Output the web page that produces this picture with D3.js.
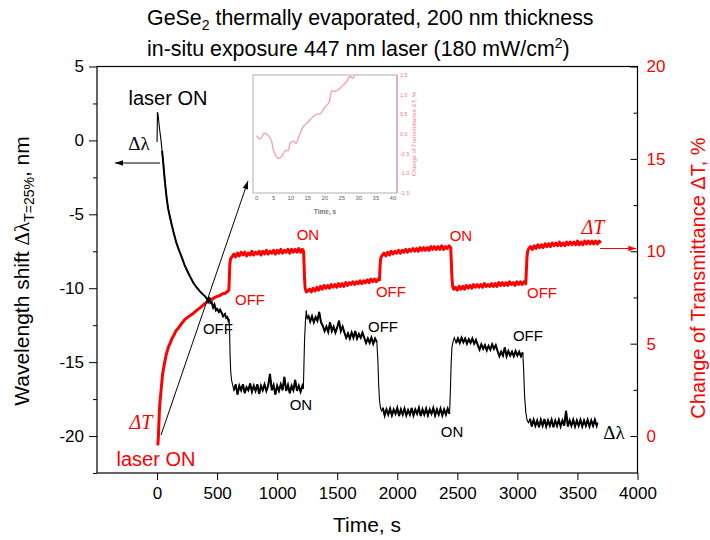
<!DOCTYPE html>
<html>
<head>
<meta charset="utf-8">
<script src="https://cdn.jsdelivr.net/npm/d3@7"></script>
<style>
  body { margin: 0; background: #fff; }
  text { font-family: "Liberation Sans", Arial, sans-serif; }
  .serif { font-family: "Liberation Serif", "Times New Roman", serif; }
</style>
</head>
<body>
<div id="chart"></div>
<script>
// ---- data: [time s, value] ----
// wavelength shift, nm (left axis)
const lamDecay = [[0,-0.1],[3,1.9],[8,1.8],[15,1.2],[22,0.7],[33,0.0],[42,-0.7],[52,-1.55],[62,-2.5],[72,-3.3],[80,-3.9],[92,-4.6],[105,-5.1],[122,-5.7],[140,-6.3],[160,-6.9],[177,-7.3],[191,-7.6],[210,-8.0],[230,-8.45],[250,-8.8],[274,-9.2],[303,-9.65],[330,-9.95],[355,-10.2],[380,-10.4],[400,-10.55],[414,-10.7],[425,-10.9],[435,-10.6],[445,-11.0],[455,-10.95],[467,-11.3],[478,-11.1],[490,-11.5],[500,-11.4],[515,-11.6],[525,-11.45],[540,-11.7],[550,-11.9],[565,-11.75],[575,-12.0],[585,-11.95],[595,-12.2],[600,-12.1]];
const lamOn1 = [[604,-13.0],[608,-14.5],[613,-15.6],[620,-16.2],[628,-16.5],[640,-16.9],[655,-16.5],[670,-17.2],[685,-16.6],[700,-16.9],[715,-16.5],[730,-17.1],[745,-16.7],[760,-16.9],[775,-16.45],[790,-17.0],[805,-16.6],[820,-16.95],[835,-16.5],[850,-17.15],[865,-16.6],[880,-16.9],[895,-16.5],[910,-16.95],[925,-16.6],[940,-15.8],[955,-16.9],[970,-16.55],[985,-17.2],[1000,-16.6],[1015,-16.95],[1030,-16.5],[1045,-16.9],[1060,-16.0],[1075,-16.95],[1090,-16.55],[1105,-17.1],[1120,-16.6],[1135,-16.9],[1150,-16.2],[1165,-16.95],[1180,-16.6],[1195,-17.0],[1210,-16.6],[1218,-16.8]];
const lamOff1 = [[1222,-15.5],[1228,-13.5],[1235,-12.3],[1242,-11.5],[1250,-12.1],[1260,-11.85],[1275,-12.25],[1290,-11.9],[1305,-12.3],[1320,-11.95],[1335,-12.2],[1350,-11.6],[1365,-12.3],[1380,-12.55],[1395,-12.9],[1410,-12.6],[1425,-12.95],[1440,-12.3],[1455,-12.9],[1470,-12.6],[1485,-13.0],[1500,-12.65],[1515,-12.2],[1530,-12.9],[1545,-12.6],[1560,-13.0],[1575,-13.35],[1590,-13.05],[1605,-13.4],[1620,-13.0],[1635,-13.35],[1650,-12.9],[1665,-13.4],[1680,-13.1],[1695,-13.35],[1710,-13.0],[1725,-13.35],[1740,-13.7],[1755,-13.4],[1770,-13.7],[1785,-13.35],[1800,-13.75],[1815,-13.4],[1830,-13.65]];
const lamOn2 = [[1838,-14.8],[1845,-16.5],[1852,-17.6],[1860,-18.1],[1870,-18.3],[1880,-18.1],[1895,-18.6],[1910,-18.2],[1925,-18.55],[1940,-18.15],[1955,-18.6],[1970,-18.2],[1985,-18.5],[2000,-18.1],[2015,-18.65],[2030,-18.2],[2045,-18.55],[2060,-18.15],[2075,-18.6],[2090,-18.25],[2105,-18.55],[2120,-18.1],[2135,-18.6],[2150,-18.2],[2165,-18.5],[2180,-18.1],[2195,-18.65],[2210,-18.2],[2225,-18.55],[2240,-18.15],[2255,-18.6],[2270,-18.2],[2285,-18.5],[2300,-18.1],[2315,-18.6],[2330,-18.2],[2345,-18.55],[2360,-18.15],[2375,-18.6],[2390,-18.2],[2405,-18.55],[2420,-18.15],[2435,-18.5]];
const lamOff2 = [[2442,-17.0],[2448,-15.2],[2455,-14.0],[2465,-13.6],[2475,-13.35],[2490,-13.7],[2505,-13.4],[2520,-13.7],[2535,-13.35],[2550,-13.65],[2565,-13.4],[2580,-13.75],[2595,-13.45],[2610,-13.7],[2625,-13.4],[2640,-13.75],[2655,-13.5],[2670,-13.85],[2685,-14.15],[2700,-13.8],[2715,-14.1],[2730,-13.85],[2745,-14.2],[2760,-13.9],[2775,-14.15],[2790,-13.8],[2805,-14.1],[2820,-13.85],[2835,-14.25],[2850,-14.6],[2865,-14.3],[2880,-14.55],[2895,-14.0],[2910,-14.6],[2925,-14.25],[2940,-14.55],[2955,-14.3],[2970,-14.6],[2985,-14.25],[3000,-14.55],[3015,-14.3],[3030,-14.6],[3045,-14.35]];
const lamOn3 = [[3052,-15.5],[3060,-17.3],[3070,-18.4],[3080,-18.9],[3092,-19.1],[3105,-18.85],[3120,-19.35],[3135,-18.9],[3150,-19.3],[3165,-18.95],[3180,-19.4],[3195,-18.9],[3210,-19.3],[3225,-18.85],[3240,-19.35],[3255,-18.95],[3270,-19.3],[3285,-18.9],[3300,-19.4],[3315,-18.95],[3330,-19.3],[3345,-18.9],[3360,-19.35],[3375,-18.95],[3390,-19.3],[3405,-18.3],[3420,-19.35],[3435,-18.95],[3450,-19.3],[3465,-18.9],[3480,-19.35],[3495,-18.95],[3510,-19.3],[3525,-18.9],[3540,-19.35],[3555,-18.95],[3570,-19.3],[3585,-18.9],[3600,-19.35],[3615,-18.95],[3630,-19.3],[3645,-18.9],[3660,-19.3],[3667,-19.1]];

// change of transmittance, % (right axis)
const trRise = [[6,-0.5],[8,-0.35],[12,0.1],[16,0.8],[20,1.4],[25,1.9],[31,2.3],[38,2.8],[45,3.3],[55,3.7],[67,4.1],[76,4.4],[85,4.6],[96,4.85],[108,5.0],[122,5.25],[140,5.45],[158,5.7],[178,5.85],[200,6.05],[230,6.3],[260,6.45],[303,6.65],[330,6.8],[360,6.95],[385,7.1],[414,7.25],[445,7.35],[480,7.5],[520,7.6],[545,7.7],[567,7.73],[590,7.85],[598,7.9]];
const trOff1 = [[602,8.6],[606,9.3],[612,9.6],[625,9.7],[640,9.85],[655,9.7],[670,9.9],[685,9.75],[700,9.95],[715,9.8],[730,9.95],[745,9.75],[760,9.9],[775,9.8],[790,10.0],[805,9.8],[820,9.95],[835,9.85],[850,10.0],[865,9.8],[880,10.0],[895,9.85],[910,10.05],[925,9.85],[940,10.0],[955,9.9],[970,10.05],[985,9.85],[1000,10.05],[1015,9.9],[1030,10.1],[1045,9.9],[1060,10.05],[1075,9.95],[1090,10.1],[1105,9.9],[1120,10.1],[1135,9.95],[1150,10.1],[1165,9.95],[1180,10.15],[1195,9.95],[1210,10.1],[1220,10.0]];
const trOn1 = [[1224,9.3],[1228,8.5],[1233,8.0],[1242,7.8],[1255,7.85],[1270,7.95],[1285,7.8],[1300,8.0],[1315,7.85],[1330,8.05],[1345,7.9],[1360,8.1],[1375,7.95],[1390,8.15],[1405,8.0],[1420,8.15],[1435,8.0],[1450,8.2],[1465,8.05],[1480,8.2],[1495,8.05],[1510,8.25],[1525,8.1],[1540,8.25],[1555,8.1],[1570,8.3],[1585,8.15],[1600,8.3],[1615,8.2],[1630,8.35],[1645,8.2],[1660,8.35],[1675,8.25],[1690,8.4],[1705,8.25],[1720,8.4],[1735,8.3],[1750,8.45],[1765,8.3],[1780,8.5],[1795,8.35],[1810,8.5],[1825,8.35],[1840,8.5],[1852,8.45]];
const trOff2 = [[1856,9.1],[1860,9.5],[1866,9.7],[1878,9.8],[1890,9.9],[1905,9.75],[1920,9.95],[1935,9.8],[1950,10.0],[1965,9.85],[1980,10.0],[1995,9.9],[2010,10.05],[2025,9.9],[2040,10.05],[2055,9.95],[2070,10.1],[2085,9.95],[2100,10.1],[2115,10.0],[2130,10.15],[2145,10.0],[2160,10.15],[2175,10.0],[2190,10.2],[2205,10.05],[2220,10.2],[2235,10.05],[2250,10.2],[2265,10.05],[2280,10.25],[2295,10.1],[2310,10.25],[2325,10.1],[2340,10.25],[2355,10.1],[2370,10.3],[2385,10.1],[2400,10.25],[2415,10.15],[2430,10.3],[2445,10.2]];
const trOn2 = [[2450,9.4],[2455,8.6],[2461,8.1],[2470,7.95],[2485,8.05],[2500,7.9],[2515,8.1],[2530,7.95],[2545,8.1],[2560,7.95],[2575,8.15],[2590,8.0],[2605,8.15],[2620,8.0],[2635,8.2],[2650,8.05],[2665,8.2],[2680,8.05],[2695,8.2],[2710,8.05],[2725,8.25],[2740,8.1],[2755,8.2],[2770,8.1],[2785,8.25],[2800,8.1],[2815,8.25],[2830,8.1],[2845,8.3],[2860,8.15],[2875,8.3],[2890,8.15],[2905,8.3],[2920,8.15],[2935,8.35],[2950,8.2],[2965,8.3],[2980,8.15],[2995,8.35],[3010,8.2],[3025,8.35],[3040,8.2],[3055,8.35],[3070,8.25]];
const trOff3 = [[3075,9.0],[3080,9.7],[3086,10.0],[3095,10.15],[3110,10.25],[3125,10.1],[3140,10.3],[3155,10.15],[3170,10.35],[3185,10.2],[3200,10.35],[3215,10.2],[3230,10.4],[3245,10.25],[3260,10.4],[3275,10.25],[3290,10.45],[3305,10.3],[3320,10.45],[3335,10.3],[3350,10.5],[3365,10.3],[3380,10.45],[3395,10.3],[3410,10.5],[3425,10.35],[3440,10.5],[3455,10.35],[3470,10.5],[3485,10.35],[3500,10.55],[3515,10.35],[3530,10.5],[3545,10.35],[3560,10.55],[3575,10.4],[3590,10.55],[3605,10.4],[3620,10.55],[3635,10.4],[3650,10.55],[3665,10.4],[3680,10.55],[3695,10.45]];

// inset: first seconds of exposure, [time s, dT %]
const insetData = [[0,-0.04],[1,-0.13],[2.15,0.02],[3.4,-0.04],[4.4,-0.2],[4.9,-0.41],[5.7,-0.56],[6.6,-0.62],[7.4,-0.56],[8.3,-0.43],[9.3,-0.41],[9.8,-0.22],[10.75,-0.18],[11.5,-0.24],[12.5,-0.03],[13.7,0.19],[14.7,0.27],[16.1,0.4],[17.6,0.5],[18.6,0.51],[20,0.68],[21.3,0.82],[22,1.1],[23,1.08],[24.4,1.16],[25.4,1.25],[26.4,1.33],[27.4,1.46],[28.3,1.42],[28.8,1.5]];

// ticks
const timeTicks = [0,500,1000,1500,2000,2500,3000,3500,4000];
const lamTicks = [5,0,-5,-10,-15,-20];
const lamMinor = [2.5,-2.5,-7.5,-12.5,-17.5,-22.5];
const trTicks = [0,5,10,15,20];
const trMinor = [2.5,7.5,12.5,17.5];
const insetTimeTicks = [0,5,10,15,20,25,30,35,40];
const insetTrTicks = [-1.5,-1.0,-0.5,0.0,0.5,1.0,1.5];

const lamSegments = [lamDecay, lamOn1, lamOff1, lamOn2, lamOff2, lamOn3];
const trSegments = [trRise, trOff1, trOn1, trOff2, trOn2, trOff3];
const dLambda = [].concat(...lamSegments);
const dTrans = [].concat(...trSegments);

const RED = "#ff0000";
const W = 710, H = 540;
const margin = {top: 66.5, right: 72.5, bottom: 67, left: 97};
const plotW = W - margin.left - margin.right;
const plotH = H - margin.top - margin.bottom;
const plain = d => String(d);

const svg = d3.select("#chart").append("svg")
  .attr("width", W).attr("height", H);

const defs = svg.append("defs");
function marker(id, color) {
  defs.append("marker").attr("id", id)
    .attr("viewBox", "0 0 10 10").attr("refX", 10).attr("refY", 5)
    .attr("markerWidth", 10).attr("markerHeight", 8).attr("markerUnits", "userSpaceOnUse")
    .attr("orient", "auto")
    .append("path").attr("d", "M0,1.5 L10,5 L0,8.5 Z").attr("fill", color);
}
marker("arrBlack", "#000");
marker("arrRed", RED);

const x = d3.scaleLinear().domain([-500, 4000]).range([margin.left, margin.left + plotW]);
const yL = d3.scaleLinear().domain([-22.5, 5]).range([margin.top + plotH, margin.top]);
const yR = d3.scaleLinear().domain([-2, 20]).range([margin.top + plotH, margin.top]);

// bottom axis
const gx = svg.append("g")
  .attr("transform", `translate(0,${margin.top + plotH})`)
  .call(d3.axisBottom(x).tickValues(timeTicks).tickFormat(plain).tickSize(7).tickSizeOuter(0).tickPadding(7));
gx.select(".domain").remove();
gx.selectAll("text").style("font-size", "17px").attr("fill", "#000");

// left axis
const gl = svg.append("g").attr("transform", `translate(${margin.left},0)`)
  .call(d3.axisLeft(yL).tickValues(lamTicks).tickFormat(plain).tickSize(8).tickSizeOuter(0).tickPadding(5));
gl.select(".domain").remove();
gl.selectAll("text").style("font-size", "17px").attr("fill", "#000");
const glm = svg.append("g").attr("transform", `translate(${margin.left},0)`)
  .call(d3.axisLeft(yL).tickValues(lamMinor).tickSize(4).tickFormat(""));
glm.select(".domain").remove();

// right axis (ticks pointing inward)
const gr = svg.append("g").attr("transform", `translate(${margin.left + plotW},0)`)
  .call(d3.axisRight(yR).tickValues(trTicks).tickFormat(plain).tickSize(-7).tickSizeOuter(0).tickPadding(9));
gr.select(".domain").remove();
gr.selectAll("text").style("font-size", "17px").attr("fill", RED);
const grm = svg.append("g").attr("transform", `translate(${margin.left + plotW},0)`)
  .call(d3.axisRight(yR).tickValues(trMinor).tickSize(-4).tickFormat(""));
grm.select(".domain").remove();

// frame
svg.append("rect")
  .attr("x", margin.left).attr("y", margin.top)
  .attr("width", plotW).attr("height", plotH)
  .attr("fill", "none").attr("stroke", "#000").attr("stroke-width", 1.2);

// curves
const lineR = d3.line().x(d => x(d[0])).y(d => yR(d[1]));
const lineL = d3.line().x(d => x(d[0])).y(d => yL(d[1]));
svg.append("path").datum(dTrans).attr("d", lineR)
  .attr("fill", "none").attr("stroke", RED).attr("stroke-width", 3).attr("stroke-linejoin", "round");
svg.append("path").datum(dLambda).attr("d", lineL)
  .attr("fill", "none").attr("stroke", "#000").attr("stroke-width", 1.1);
// noisy plateaus are thicker than the switching edges
svg.selectAll(".plateau").data(lamSegments.map((s, i) => i === 0 ? s.slice(6) : s.slice(5)))
  .enter().append("path").attr("d", lineL)
  .attr("fill", "none").attr("stroke", "#000").attr("stroke-width", 2);

// inset
const ix = d3.scaleLinear().domain([-1.1, 41.2]).range([253, 397]);
const iy = d3.scaleLinear().domain([-1.5, 1.5]).range([193, 75]);
const inset = svg.append("g");
inset.append("rect").attr("x", 253).attr("y", 75).attr("width", 144).attr("height", 118)
  .attr("fill", "#fff").attr("stroke", "#b0b0b0").attr("stroke-width", 1);
inset.append("line").attr("x1", 397).attr("x2", 397).attr("y1", 75).attr("y2", 193)
  .attr("stroke", "#f08a92").attr("stroke-width", 1);
inset.append("defs").append("clipPath").attr("id", "insetClip")
  .append("rect").attr("x", 253).attr("y", 75).attr("width", 144).attr("height", 118);
inset.append("path").datum(insetData).attr("clip-path", "url(#insetClip)")
  .attr("d", d3.line().curve(d3.curveMonotoneX).x(d => ix(d[0])).y(d => iy(d[1])))
  .attr("fill", "none").attr("stroke", "#f4a3ab").attr("stroke-width", 1.4);
inset.selectAll(".ixt").data(insetTimeTicks).enter().append("text")
  .attr("x", d => ix(d)).attr("y", 200).attr("text-anchor", "middle")
  .style("font-size", "6px").attr("fill", "#666").text(d => d);
inset.selectAll(".iyt").data(insetTrTicks).enter().append("text")
  .attr("x", 400).attr("y", d => iy(d) + 2).style("font-size", "5.5px")
  .attr("fill", "#f07a85").text(d => d.toFixed(1));
inset.append("text").attr("x", 325).attr("y", 214).attr("text-anchor", "middle")
  .style("font-size", "6.5px").style("font-weight", "bold").attr("fill", "#777").text("Time, s");
inset.append("text").attr("transform", "translate(416,134) rotate(-90)")
  .attr("text-anchor", "middle").style("font-size", "6px").attr("fill", "#f07a85")
  .text("Change of Transmittance \u0394T, %");

// arrows
svg.append("line")
  .attr("x1", x(25)).attr("y1", yL(-1.53)).attr("x2", x(-350)).attr("y2", yL(-1.53))
  .attr("stroke", "#000").attr("stroke-width", 1).attr("marker-end", "url(#arrBlack)");
svg.append("line")
  .attr("x1", x(3688)).attr("y1", yR(10.15)).attr("x2", x(3990)).attr("y2", yR(10.15))
  .attr("stroke", RED).attr("stroke-width", 1).attr("marker-end", "url(#arrRed)");
svg.append("line")
  .attr("x1", x(33)).attr("y1", yL(-19.93)).attr("x2", x(757)).attr("y2", yL(-2.75))
  .attr("stroke", "#000").attr("stroke-width", 1).attr("marker-end", "url(#arrBlack)");

// annotation labels
const blackLabels = [
  {t: 91, v: 2.87, s: "laser ON", size: 20},
  {t: 507, v: -12.76, s: "OFF", size: 15},
  {t: 1198, v: -17.9, s: "ON", size: 15},
  {t: 1881, v: -12.62, s: "OFF", size: 15},
  {t: 2456, v: -19.72, s: "ON", size: 15},
  {t: 3088, v: -13.23, s: "OFF", size: 15}
];
const redLabels = [
  {t: -9, v: -1.24, s: "laser ON", size: 20},
  {t: 774, v: 7.36, s: "OFF", size: 15},
  {t: 1256, v: 10.88, s: "ON", size: 15},
  {t: 1947, v: 7.8, s: "OFF", size: 15},
  {t: 2530, v: 10.83, s: "ON", size: 15},
  {t: 3205, v: 7.74, s: "OFF", size: 15}
];
svg.selectAll(".bl").data(blackLabels).enter().append("text")
  .attr("x", d => x(d.t)).attr("y", d => yL(d.v)).attr("dy", "0.35em")
  .attr("text-anchor", "middle").style("font-size", d => d.size + "px").attr("fill", "#000")
  .text(d => d.s);
svg.selectAll(".rl").data(redLabels).enter().append("text")
  .attr("x", d => x(d.t)).attr("y", d => yR(d.v)).attr("dy", "0.35em")
  .attr("text-anchor", "middle").style("font-size", d => d.size + "px").attr("fill", RED)
  .text(d => d.s);

// greek symbol labels
[[-150, -0.18], [3804, -19.72]].forEach(p => {
  svg.append("text").attr("class", "serif")
    .attr("x", x(p[0])).attr("y", yL(p[1])).attr("dy", "0.35em").attr("text-anchor", "middle")
    .style("font-size", "19px").attr("fill", "#000").text("\u0394\u03bb");
});
[[-134, 0.76], [3630, 11.31]].forEach(p => {
  svg.append("text").attr("class", "serif")
    .attr("x", x(p[0])).attr("y", yR(p[1])).attr("dy", "0.35em").attr("text-anchor", "middle")
    .style("font-size", "20px").style("font-style", "italic").attr("fill", RED).text("\u0394T");
});

// titles
const t1 = svg.append("text").attr("x", 147).attr("y", 25).style("font-size", "21.4px");
t1.append("tspan").text("GeSe");
t1.append("tspan").attr("dy", 5).style("font-size", "14px").text("2");
t1.append("tspan").attr("dy", -5).text(" thermally evaporated, 200 nm thickness");
const t2 = svg.append("text").attr("x", 147).attr("y", 56).style("font-size", "21.4px");
t2.append("tspan").text("in-situ exposure 447 nm laser (180 mW/cm");
t2.append("tspan").attr("dy", -8).style("font-size", "14px").text("2");
t2.append("tspan").attr("dy", 8).text(")");

// axis titles
svg.append("text").attr("x", 367).attr("y", 532).attr("text-anchor", "middle")
  .style("font-size", "21px").text("Time, s");
const lt = svg.append("text").attr("transform", "translate(29,271) rotate(-90)")
  .attr("text-anchor", "middle").style("font-size", "21px");
lt.append("tspan").text("Wavelength shift ");
lt.append("tspan").attr("class", "serif").text("\u0394\u03bb");
lt.append("tspan").attr("dy", 5).style("font-size", "14px").text("T=25%");
lt.append("tspan").attr("dy", -5).text(", nm");
svg.append("text").attr("transform", "translate(705,278) rotate(-90)")
  .attr("text-anchor", "middle").style("font-size", "20px").attr("fill", RED)
  .text("Change of Transmittance \u0394T, %");
</script>
</body>
</html>
